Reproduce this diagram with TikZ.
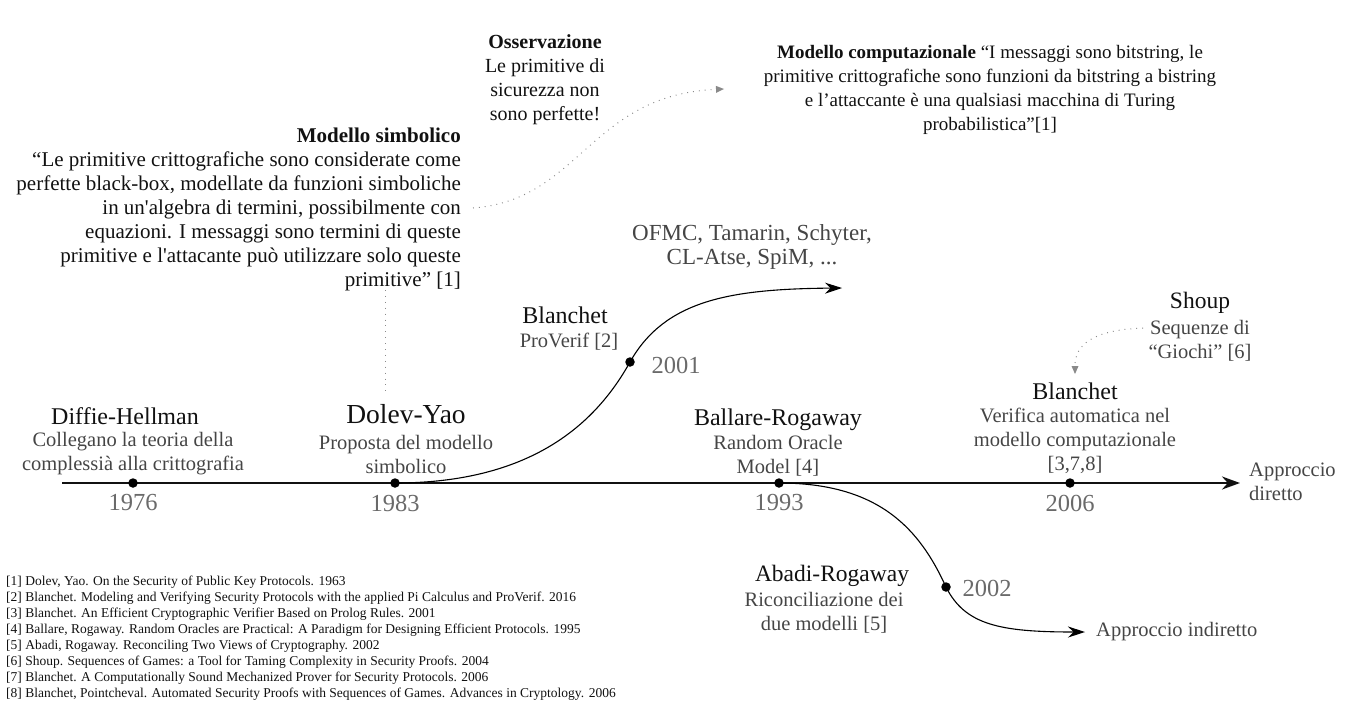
\documentclass[tikz,border=0pt]{standalone}
\usepackage{fontspec}
\setmainfont{Liberation Serif}[Ligatures=TeXOff]
\usetikzlibrary{arrows.meta}
\definecolor{ttl}{HTML}{111111}
\definecolor{sub}{HTML}{454545}
\definecolor{yr}{HTML}{6A6A6A}
\definecolor{dotc}{HTML}{8A8A8A}
\tikzset{
  ttlnode/.style={text=ttl, inner sep=0pt, align=center, font=\fontsize{24}{24}\selectfont},
  subnode/.style={text=sub, inner sep=0pt, align=center, font=\fontsize{20.5}{24}\selectfont},
  yrnode/.style={text=yr, inner sep=0pt, font=\fontsize{24.5}{24}\selectfont},
  evdot/.style={circle, fill=black, minimum size=9.5pt, inner sep=0pt},
  mainline/.style={line width=2.4pt, draw=ttl, -{Stealth[length=18pt,width=13pt]}},
  branch/.style={line width=1.1pt, draw=black, -{Stealth[length=17pt,width=11pt]}},
  dotline/.style={draw=dotc, line width=1pt, dash pattern=on 0.9pt off 5pt},
  dotarrow/.style={dotline, -{Triangle[length=8pt,width=7pt,fill=dotc,line width=0pt]}},
}
\begin{document}
\begin{tikzpicture}[x=1pt,y=-1pt]
\useasboundingbox (0,0) rectangle (1346,712);

% main timeline
\coordinate (tl0) at (62,483);
\coordinate (tl1) at (1240,483);
\draw[mainline] (tl0) -- (tl1);

% events on main line
\node[evdot] (d76) at (133,483) {};
\node[evdot] (d83) at (395,483) {};
\node[evdot] (d93) at (779,483) {};
\node[evdot] (d06) at (1070,483) {};

\node[yrnode] (y76) at (133,503) {1976};
\node[yrnode] (y83) at (395,503) {1983};
\node[yrnode] (y93) at (779,503) {1993};
\node[yrnode] (y06) at (1070,503) {2006};

\node[ttlnode] (tdh) at (125,416) {Diffie-Hellman};
\node[subnode] (sdh) at (133,454) {Collegano la teoria della\\complessià alla crittografia};

\node[ttlnode, font=\fontsize{27.5}{27.5}\selectfont] (tdy) at (406,414) {Dolev-Yao};
\node[subnode] (sdy) at (406,454) {Proposta del modello\\simbolico};

\node[ttlnode] (tbr) at (778,420) {Ballare-Rogaway};
\node[subnode] (sbr) at (778,456) {Random Oracle\\Model [4]};

\node[ttlnode] (tbl2) at (1075,391) {Blanchet};
\node[subnode] (sbl2) at (1075,441) {Verifica automatica nel\\modello computazionale\\{[3,7,8]}};

\node[subnode, align=left, anchor=west] (dir) at (1249,482) {Approccio\\diretto};

% branch up: Blanchet / ProVerif
\node[evdot] (d01) at (630,362) {};
\node[yrnode] (y01) at (676,365) {2001};
\node[ttlnode] (tbl1) at (565,315) {Blanchet};
\node[subnode] (sbl1) at (569,342) {ProVerif [2]};
\coordinate (up1) at (842,288);
\draw[branch, -] (d83.center) .. controls (530,483) and (595,425) .. (d01.center);
\draw[branch] (d01.center) .. controls (665,300) and (730,289) .. (up1);
\node[subnode, font=\fontsize{23}{24}\selectfont] (tools) at (752,247) {OFMC, Tamarin, Schyter,\\CL-Atse, SpiM, ...};

% branch down: Abadi-Rogaway
\node[evdot] (d02) at (946,587) {};
\node[yrnode] (y02) at (987,588) {2002};
\node[ttlnode, font=\fontsize{23.5}{24}\selectfont] (tar) at (832,576) {Abadi-Rogaway};
\node[subnode] (sar) at (824,613) {Riconciliazione dei\\due modelli [5]};
\coordinate (dn1) at (1085,632);
\draw[branch, -] (d93.center) .. controls (880,483) and (920,530) .. (d02.center);
\draw[branch] (d02.center) .. controls (965,625) and (1000,632) .. (dn1);
\node[subnode, anchor=west] (ind) at (1096,632) {Approccio indiretto};

% Shoup
\node[ttlnode, font=\fontsize{23.5}{24}\selectfont] (tsh) at (1200,303) {Shoup};
\node[subnode] (ssh) at (1200,341) {Sequenze di\\“Giochi” [6]};
\coordinate (sh0) at (1143,328);
\coordinate (sh1) at (1075,374);
\draw[dotarrow] (sh0) .. controls (1092,330) and (1075,345) .. (sh1);

% Modello simbolico
\node[text=ttl, inner sep=0pt, align=right, anchor=east, font=\fontsize{21}{24}\selectfont] (msim) at (461,209)
  {\textbf{Modello simbolico}\\
   “Le primitive crittografiche sono considerate come\\
   perfette black-box, modellate da funzioni simboliche\\
   in un'algebra di termini, possibilmente con\\
   equazioni. I messaggi sono termini di queste\\
   primitive e l'attacante può utilizzare solo queste\\
   primitive” [1]};
\coordinate (ms0) at (385,290);
\coordinate (ms1) at (385,395);
\draw[dotline] (ms0) -- (ms1);

% Osservazione
\node[text=ttl, inner sep=0pt, align=center, font=\fontsize{20}{24}\selectfont] (oss) at (545,80)
  {\textbf{Osservazione}\\Le primitive di\\sicurezza non\\sono perfette!};
\coordinate (os0) at (473,208);
\coordinate (os1) at (724,89);
\draw[dotarrow] (os0) .. controls (580,200) and (590,95) .. (os1);

% Modello computazionale
\node[text=ttl, inner sep=0pt, align=center, font=\fontsize{19}{24}\selectfont] (mcomp) at (990,90)
  {\textbf{Modello computazionale} “I messaggi sono bitstring, le\\
   primitive crittografiche sono funzioni da bitstring a bistring\\
   e l’attaccante è una qualsiasi macchina di Turing\\
   probabilistica”[1]};

% references
\node[text=ttl, inner sep=0pt, align=left, anchor=north west, font=\fontsize{13.5}{16}\selectfont] (refs) at (6,576)
  {{[1]} Dolev, Yao. On the Security of Public Key Protocols. 1963\\
   {[2]} Blanchet. Modeling and Verifying Security Protocols with the applied Pi Calculus and ProVerif. 2016\\
   {[3]} Blanchet. An Efficient Cryptographic Verifier Based on Prolog Rules. 2001\\
   {[4]} Ballare, Rogaway. Random Oracles are Practical: A Paradigm for Designing Efficient Protocols. 1995\\
   {[5]} Abadi, Rogaway. Reconciling Two Views of Cryptography. 2002\\
   {[6]} Shoup. Sequences of Games: a Tool for Taming Complexity in Security Proofs. 2004\\
   {[7]} Blanchet. A Computationally Sound Mechanized Prover for Security Protocols. 2006\\
   {[8]} Blanchet, Pointcheval. Automated Security Proofs with Sequences of Games. Advances in Cryptology. 2006};
\end{tikzpicture}
\end{document}
